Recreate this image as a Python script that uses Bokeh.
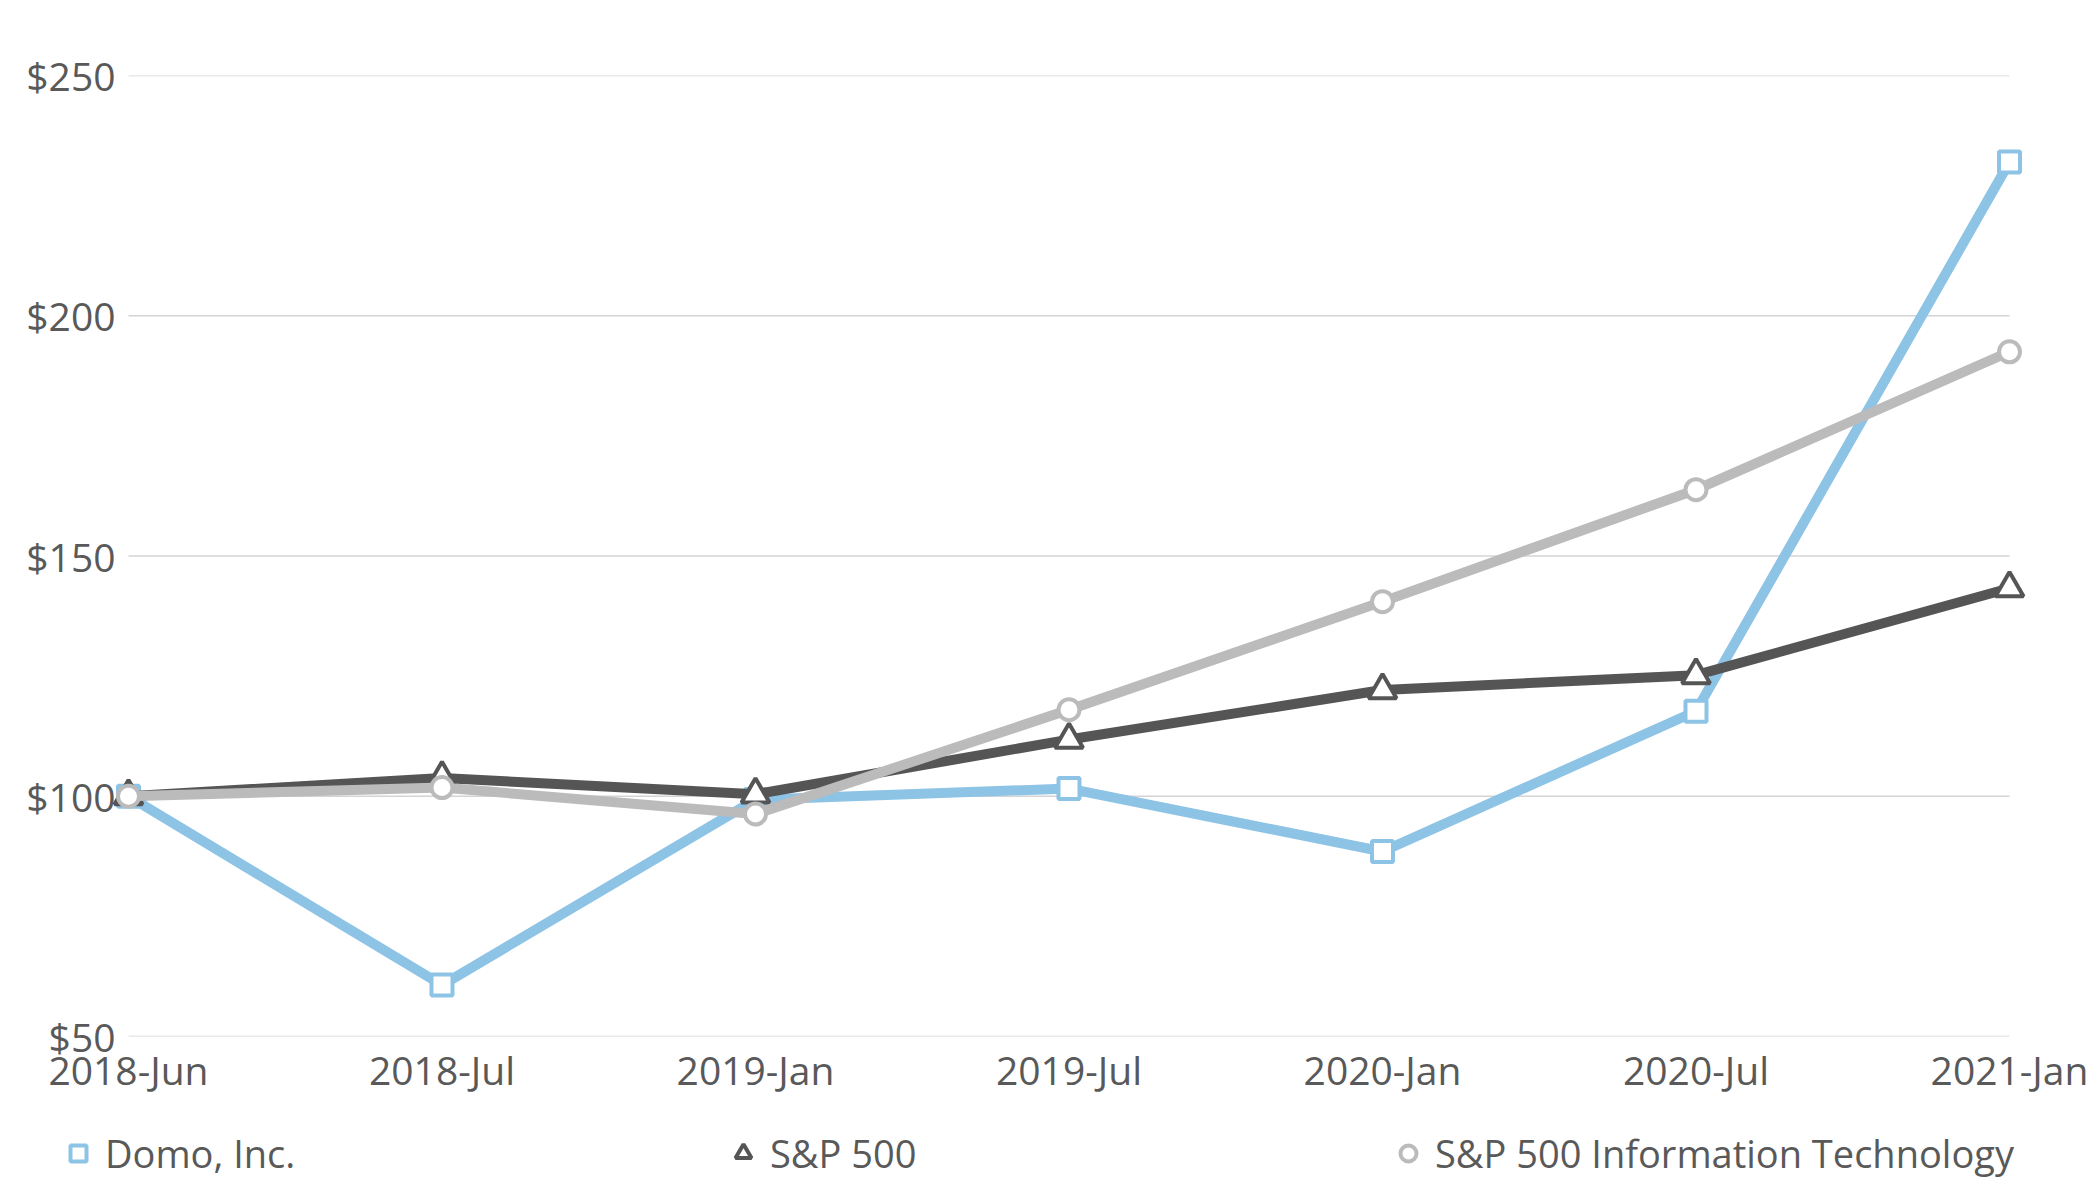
from bokeh.plotting import figure
from bokeh.layouts import column
from bokeh.models import (Range1d, FixedTicker, NumeralTickFormatter, Legend, LegendItem,
                          ColumnDataSource)
from bokeh.embed import file_html
from bokeh.resources import INLINE

# ---- data ----
periods = ["2018-Jun", "2018-Jul", "2019-Jan", "2019-Jul", "2020-Jan", "2020-Jul", "2021-Jan"]
domo = [100, 60.7, 99.3, 101.6, 88.5, 117.7, 232.0]
sp500 = [100, 103.8, 100.4, 111.8, 122.1, 125.2, 143.3]
sp500_it = [100, 101.8, 96.3, 118.0, 140.5, 163.8, 192.5]
y_ticks = [50, 100, 150, 200, 250]
series_names = ["Domo, Inc.", "S&P 500", "S&P 500 Information Technology"]

BLUE = "#8dc3e5"
DARK = "#555555"
LIGHT = "#bbbbbb"
TEXT = "#595959"
FONT = "Open Sans"

idx = list(range(len(periods)))

W = 2095
X0_PX, X1_PX = 128, 2009          # screen position of first / last period
unit = (X1_PX - X0_PX) / (len(idx) - 1)
x_start = idx[0] - X0_PX / unit
x_end = idx[-1] + (W - X1_PX) / unit

p = figure(frame_width=W, frame_height=961, output_backend="svg", toolbar_location=None,
           title=None, x_range=Range1d(x_start, x_end),
           y_range=Range1d(50, 250),
           min_border_left=0, min_border_right=0, min_border_top=75, min_border_bottom=70)
p.outline_line_color = None
p.xgrid.visible = False
p.ygrid.visible = False

# grid lines spanning first to last period
p.segment(x0=[idx[0]] * len(y_ticks), x1=[idx[-1]] * len(y_ticks), y0=y_ticks, y1=y_ticks,
          line_color="#d4d4d4", line_width=1.6)

# axes
p.xaxis.ticker = FixedTicker(ticks=idx)
p.xaxis.major_label_overrides = {i: s for i, s in zip(idx, periods)}
p.yaxis.ticker = FixedTicker(ticks=y_ticks)
p.yaxis.formatter = NumeralTickFormatter(format="$0")
for ax in (p.xaxis, p.yaxis):
    ax.axis_line_color = None
    ax.major_tick_line_color = None
    ax.minor_tick_line_color = None
    ax.major_tick_out = 0
    ax.major_tick_in = 0
    ax.major_label_text_font = FONT
    ax.major_label_text_font_size = "39px"
    ax.major_label_text_color = TEXT
p.xaxis.major_label_standoff = 6
p.yaxis.major_label_standoff = -115

# series
specs = [(domo, BLUE, "square", 21), (sp500, DARK, "triangle", 28), (sp500_it, LIGHT, "circle", 21)]
for vals, col, mk, sz in specs:
    src = ColumnDataSource(dict(x=idx, y=vals))
    p.line("x", "y", source=src, line_color=col, line_width=10)
    p.scatter("x", "y", source=src, marker=mk, size=sz, fill_color="white",
              line_color=col, line_width=4)

# legend strip below the chart (its renderers hold the series, outside this strip's view)
lf = figure(width=W, height=78, output_backend="svg", toolbar_location=None, title=None,
            x_axis_type=None, y_axis_type=None, x_range=Range1d(0, 1), y_range=Range1d(0, 1),
            min_border=0)
lf.outline_line_color = None
lf.grid.visible = False
legend_renderers = []
for vals, col, mk, sz in specs:
    r = lf.scatter(x=idx, y=vals, marker=mk, size=16, fill_color="white", line_color=col,
                   line_width=4)
    legend_renderers.append(r)

legend = Legend(items=[LegendItem(label=n, renderers=[r]) for n, r in zip(series_names, legend_renderers)],
                orientation="horizontal", location=(58, 5),
                glyph_width=40, glyph_height=40, label_standoff=7, label_width=618, spacing=0,
                padding=0, margin=0, border_line_color=None, background_fill_alpha=0,
                label_text_font=FONT, label_text_font_size="38px", label_text_color=TEXT)
lf.add_layout(legend, "center")

layout = column(p, lf, spacing=0)
open("out.html", "w").write(file_html(layout, INLINE))
